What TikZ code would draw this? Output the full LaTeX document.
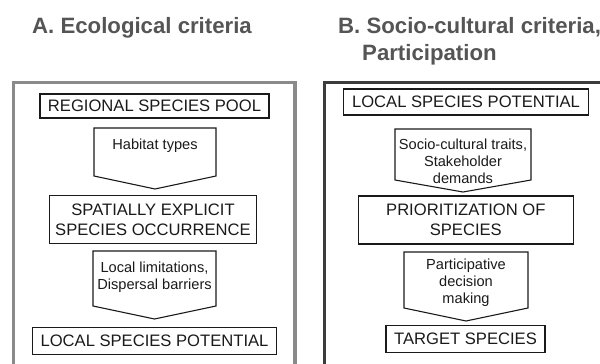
\documentclass[tikz,border=0pt]{standalone}
\usepackage{fontspec}
\setmainfont{Liberation Sans}
\begin{document}
\begin{tikzpicture}[x=1pt,y=-1pt,
  titletext/.style={anchor=base west,inner sep=0pt,text=titlegray,
    font=\bfseries\fontsize{22.2}{27}\selectfont},
  framea/.style={draw=framelight,line width=3.5pt},
  frameb/.style={draw=framedark,line width=3.5pt},
  stagebox/.style={draw=inkblack,line width=1.1pt,inner sep=0pt,align=center,
    text=inkblack,font=\fontsize{16.6}{20}\selectfont},
  flowshape/.style={draw=inkblack,line width=1.1pt,line join=miter},
  flowtext/.style={anchor=north,inner sep=0pt,align=center,text=inkblack,
    font=\fontsize{14.6}{17}\selectfont}]
\definecolor{titlegray}{HTML}{555555}
\definecolor{framelight}{HTML}{8A8A8A}
\definecolor{framedark}{HTML}{3C3C3C}
\definecolor{inkblack}{HTML}{1A1A1A}

\useasboundingbox (0,0) rectangle (600,364);
\clip (0,0) rectangle (600,364);

% panel headings
\node[titletext] (titleA) at (32,33.5) {A. Ecological criteria};
\node[titletext] (titleB1) at (338,33.5) {B. Socio-cultural criteria,};
\node[titletext] (titleB2) at (362,60) {Participation};

% panel frames (open towards the lower and right edges)
\draw[framea] (13.5,370) -- (13.5,82.5) -- (295,82.5) -- (295,370);
\draw[frameb] (324.5,370) -- (324.5,82.5) -- (610,82.5);

% ---- panel A: ecological filtering ----
\node[stagebox,minimum width=229pt,minimum height=24pt] (regpool) at (154.5,106)
  {REGIONAL SPECIES POOL};
\draw[flowshape] (94,128) -- (216,128) -- (216,176) -- (155,189) -- (94,176) -- cycle;
\node[flowtext] (habitat) at (155,139) {Habitat types};

\node[stagebox,minimum width=207pt,minimum height=48pt] (spatial) at (153,219.5)
  {SPATIALLY EXPLICIT\\SPECIES OCCURRENCE};
\draw[flowshape] (93,251) -- (216,251) -- (216,306) -- (154.5,319) -- (93,306) -- cycle;
\node[flowtext] (limits) at (154.5,262) {Local limitations,\\Dispersal barriers};

\node[stagebox,minimum width=244pt,minimum height=27pt] (localA) at (154.5,341)
  {LOCAL SPECIES POTENTIAL};

% ---- panel B: socio-cultural selection ----
\node[stagebox,minimum width=245pt,minimum height=26pt] (localB) at (466,102)
  {LOCAL SPECIES POTENTIAL};
\draw[flowshape] (395,129) -- (531,129) -- (531,180) -- (463,192) -- (395,180) -- cycle;
\node[flowtext] (socio) at (463,139)
  {Socio-cultural traits,\\Stakeholder\\demands};

\node[stagebox,minimum width=215pt,minimum height=48pt] (prior) at (465.8,220)
  {PRIORITIZATION OF\\SPECIES};
\draw[flowshape] (404,252) -- (528,252) -- (528,308) -- (466,321) -- (404,308) -- cycle;
\node[flowtext] (particip) at (466,259)
  {Participative\\decision\\making};

\node[stagebox,minimum width=159pt,minimum height=27pt] (target) at (465.5,339)
  {TARGET SPECIES};
\end{tikzpicture}
\end{document}
